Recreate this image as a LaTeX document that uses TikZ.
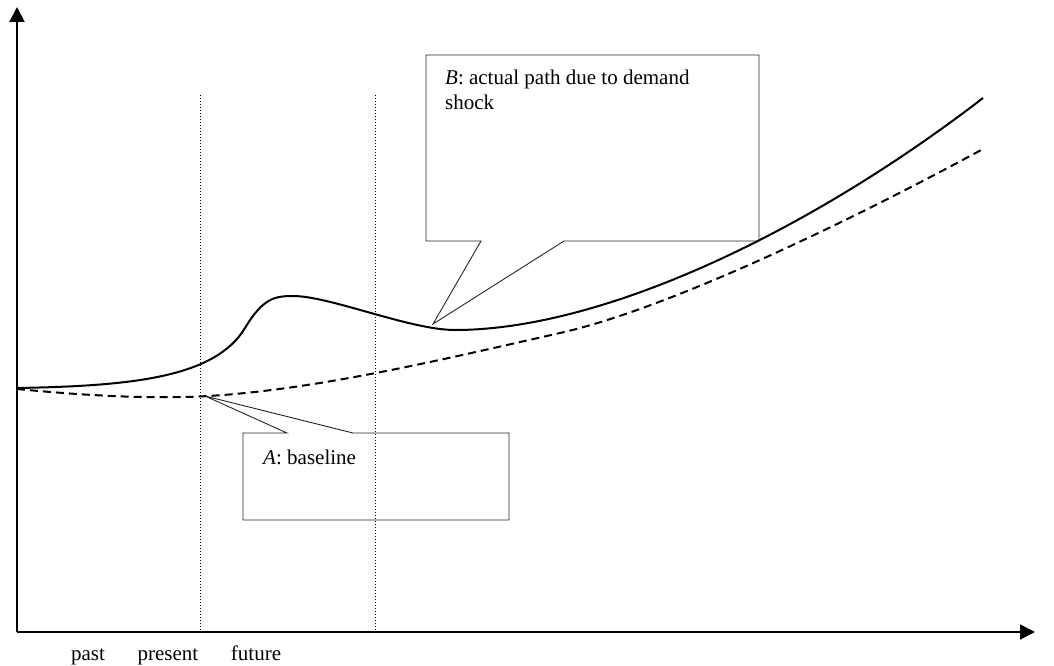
\documentclass[tikz,border=0pt]{standalone}
\usepackage{fontspec}
\setmainfont{Liberation Serif}
\usetikzlibrary{arrows.meta, calc}

\tikzset{
  axisline/.style={line width=2pt, -{Triangle[length=15pt, width=15pt]}},
  guideline/.style={line width=1pt, dash pattern=on 1pt off 2pt},
  pathcurve/.style={line width=2pt, line join=round},
  calloutbox/.style={inner sep=0pt, outer sep=0pt, anchor=north west},
  calloutline/.style={line width=0.9pt, black!85},
  plaintext/.style={font=\fontsize{21}{25}\selectfont, inner sep=0pt, align=left},
}

\begin{document}
\begin{tikzpicture}[x=1pt, y=-1pt]
    \useasboundingbox (0,0) rectangle (1054,666);

    % Axes
    \coordinate (origin) at (17,632);
    \coordinate (ytip) at (17,7);
    \coordinate (xtip) at (1035,632);
    \draw[axisline] (origin) -- (ytip);
    \draw[axisline] (origin) -- (xtip);

    % Present and future markers
    \coordinate (presenttop) at (200,95);
    \coordinate (futuretop) at (375,95);
    \draw[guideline] (presenttop) -- (presenttop |- origin);
    \draw[guideline] (futuretop) -- (futuretop |- origin);

    % Time labels
    \node[plaintext, anchor=base] (past) at (88,660) {past};
    \node[plaintext, anchor=base] (present) at (168,660) {present};
    \node[plaintext, anchor=base] (future) at (256,660) {future};

    % Actual path (B)
    \draw[pathcurve] (17,388) .. controls (130,386) and (215,378) .. (245,328)
      .. controls (263,298) and (275,296) .. (293,296)
      .. controls (330,296) and (410,330) .. (455,330)
      .. controls (600,330) and (805,235) .. (983,98);

    % Baseline (A)
    \draw[pathcurve, dash pattern=on 8pt off 5pt] (17,389) .. controls (80,395) and (130,398) .. (185,397)
      .. controls (300,394) and (440,360) .. (560,333)
      .. controls (680,306) and (880,205) .. (983,149);

    % Callout B
    \node[calloutbox, minimum width=333pt, minimum height=186pt] (boxB) at (426,55) {};
    \coordinate (tipB) at (433,324);
    \draw[calloutline] ($(boxB.south west)+(55,0)$) -- (boxB.south west) -- (boxB.north west)
      -- (boxB.north east) -- (boxB.south east) -- ($(boxB.south west)+(138,0)$) -- (tipB) -- cycle;
    \node[plaintext, anchor=north west] (textB) at ($(boxB.north west)+(19,15)$)
      {\textit{B}: actual path due to demand\\shock};

    % Callout A
    \node[calloutbox, minimum width=266pt, minimum height=87pt] (boxA) at (243,433) {};
    \coordinate (tipA) at (205,396);
    \draw[calloutline] ($(boxA.north west)+(44,0)$) -- (boxA.north west) -- (boxA.south west)
      -- (boxA.south east) -- (boxA.north east) -- ($(boxA.north west)+(110,0)$) -- (tipA) -- cycle;
    \node[plaintext, anchor=base west] (textA) at ($(boxA.north west)+(20,31)$)
      {\textit{A}: baseline};
\end{tikzpicture}
\end{document}
